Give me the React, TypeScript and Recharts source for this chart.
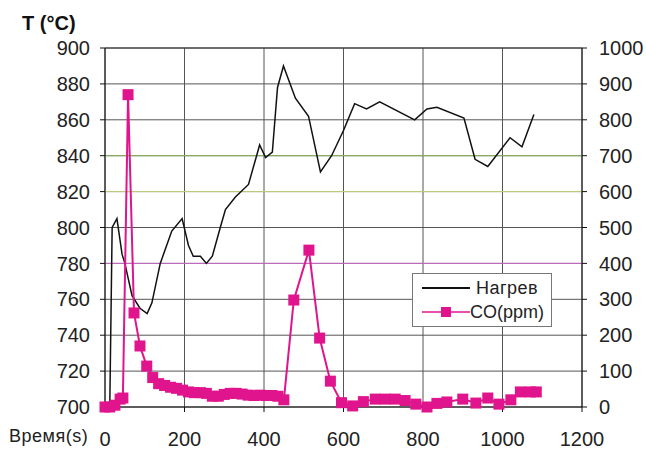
import {
  ComposedChart,
  Line,
  XAxis,
  YAxis,
  CartesianGrid,
  ReferenceLine,
} from 'recharts'

// Нагрев: time (s) / temperature (°C), left axis
const HEAT_T = [0, 12, 18, 30, 43, 50, 68, 88, 106, 118, 139, 168, 194, 210, 222, 240, 255, 270, 290, 303, 328, 361, 389, 404, 421, 434, 449, 479, 512, 542, 570, 600, 628, 658, 691, 779, 810, 835, 903, 931, 963, 1019, 1049, 1079]
const HEAT_V = [700, 700, 800, 805, 785, 780, 762, 755, 752, 758, 780, 798, 805, 790, 784, 784, 780, 784, 800, 810, 817, 824, 846, 839, 842, 878, 890, 872, 862, 831, 840, 854, 869, 866, 870, 860, 866, 867, 861, 838, 834, 850, 845, 863]

// CO(ppm): time (s) / concentration, right axis
const CO_T = [0, 12, 25, 38, 45, 58, 73, 88, 105, 120, 135, 150, 165, 180, 195, 210, 225, 240, 255, 270, 285, 300, 315, 330, 345, 360, 375, 390, 405, 420, 435, 450, 475, 513, 540, 567, 595, 623, 650, 680, 705, 730, 755, 782, 810, 835, 860, 900, 933, 963, 991, 1021, 1045, 1070, 1085]
const CO_V = [0, 0, 5, 22, 25, 870, 262, 170, 114, 82, 65, 60, 55, 52, 47, 42, 40, 40, 38, 30, 30, 35, 38, 38, 36, 33, 32, 33, 32, 32, 30, 20, 298, 437, 192, 72, 12, 3, 15, 22, 22, 22, 18, 8, 0, 10, 14, 22, 11, 25, 8, 20, 42, 42, 42]

const X_TICKS = [0, 200, 400, 600, 800, 1000, 1200]
const T_TICKS = [700, 720, 740, 760, 780, 800, 820, 840, 860, 880, 900]
const CO_TICKS = [0, 100, 200, 300, 400, 500, 600, 700, 800, 900, 1000]

const heatData = HEAT_T.map((t, i) => ({ t, v: HEAT_V[i] }))
const coData = CO_T.map((t, i) => ({ t, v: CO_V[i] }))

const PINK = '#E0148C'
const FONT = '"Liberation Sans", Arial, sans-serif'
const tick = { fontSize: 20, fill: '#222', fontFamily: FONT }

function SquareDot({ cx, cy }: any) {
  if (cx == null || cy == null) return null
  return <rect x={cx - 5.5} y={cy - 5.5} width={11} height={11} fill={PINK} />
}

function ChartLegend() {
  return (
    <div
      style={{
        position: 'absolute',
        left: 412,
        top: 273,
        background: '#fff',
        border: '1px solid #777',
        width: 140,
        height: 54,
        fontSize: 18,
        color: '#222',
        boxSizing: 'border-box',
        padding: '2px 0 0 9px',
      }}
    >
      <div style={{ display: 'flex', alignItems: 'center', height: 24 }}>
        <svg width={50} height={10}>
          <line x1={0} y1={5} x2={48} y2={5} stroke="#111" strokeWidth={2} />
        </svg>
        <span style={{ marginLeft: 4, letterSpacing: 0.5 }}>Нагрев</span>
      </div>
      <div style={{ display: 'flex', alignItems: 'center', height: 24 }}>
        <svg width={48} height={12}>
          <line x1={0} y1={6} x2={48} y2={6} stroke={PINK} strokeWidth={1.5} />
          <rect x={19} y={1} width={10} height={10} fill={PINK} />
        </svg>
        <span>CO(ppm)</span>
      </div>
    </div>
  )
}

export default function App() {
  return (
    <div
      style={{
        position: 'absolute',
        left: 0,
        top: 0,
        width: 646,
        height: 451,
        background: '#fff',
        fontFamily: FONT,
      }}
    >
      <div
        style={{
          position: 'absolute',
          left: 22,
          top: 12,
          fontSize: 20,
          fontWeight: 'bold',
          color: '#111',
        }}
      >
        T (°C)
      </div>
      <div
        style={{
          position: 'absolute',
          left: 9,
          top: 426,
          fontSize: 18,
          color: '#222',
          letterSpacing: 0.5,
        }}
      >
        Время(s)
      </div>
      <ComposedChart
        width={646}
        height={451}
        margin={{ top: 48, right: 0, bottom: 14, left: 0 }}
      >
        <CartesianGrid stroke="#555" strokeWidth={1} yAxisId="temp" />
        <ReferenceLine yAxisId="temp" y={840} stroke="#8DBA5A" />
        <ReferenceLine yAxisId="temp" y={820} stroke="#C9D47E" />
        <ReferenceLine yAxisId="temp" y={780} stroke="#C86AC8" />
        <ReferenceLine yAxisId="temp" y={900} stroke="#333" />
        <XAxis
          type="number"
          dataKey="t"
          domain={[0, 1200]}
          ticks={X_TICKS}
          tick={tick}
          height={30}
          tickSize={5}
          tickMargin={20}
          stroke="#111"
          allowDuplicatedCategory={false}
        />
        <YAxis
          yAxisId="temp"
          domain={[700, 900]}
          ticks={T_TICKS}
          tick={tick}
          width={105}
          tickSize={5}
          tickMargin={10}
          stroke="#111"
        />
        <YAxis
          yAxisId="co"
          orientation="right"
          domain={[0, 1000]}
          ticks={CO_TICKS}
          tick={{ ...tick, textAnchor: 'start' }}
          width={64}
          tickSize={5}
          tickMargin={12}
          stroke="#111"
        />
        <Line
          yAxisId="temp"
          data={heatData}
          dataKey="v"
          type="linear"
          stroke="#111"
          strokeWidth={1.5}
          dot={false}
          isAnimationActive={false}
        />
        <Line
          yAxisId="co"
          data={coData}
          dataKey="v"
          type="linear"
          stroke={PINK}
          strokeWidth={2}
          dot={<SquareDot />}
          isAnimationActive={false}
        />
      </ComposedChart>
      <ChartLegend />
    </div>
  )
}
